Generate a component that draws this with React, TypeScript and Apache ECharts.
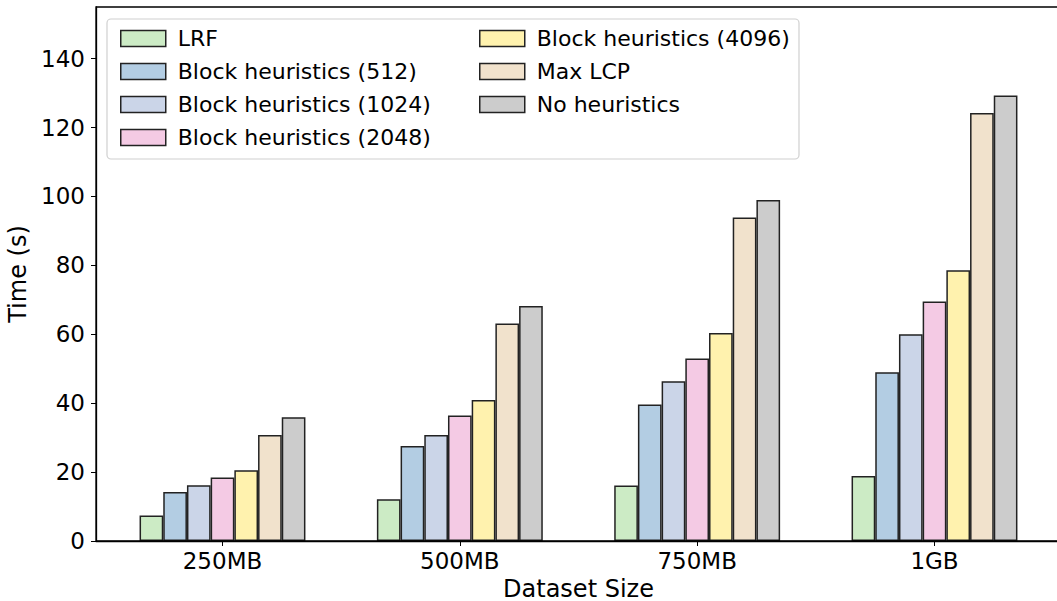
import React, { useEffect, useRef } from "react";
import * as echarts from "echarts";

const categories = ["250MB", "500MB", "750MB", "1GB"];
const seriesNames = [
  "LRF",
  "Block heuristics (512)",
  "Block heuristics (1024)",
  "Block heuristics (2048)",
  "Block heuristics (4096)",
  "Max LCP",
  "No heuristics",
];
const lrf = [7.4, 12.1, 16.1, 18.9];
const block512 = [14.2, 27.6, 39.6, 49.0];
const block1024 = [16.2, 30.8, 46.4, 60.0];
const block2048 = [18.4, 36.4, 53.0, 69.5];
const block4096 = [20.5, 40.9, 60.4, 78.6];
const maxLcp = [30.8, 63.1, 93.9, 124.2];
const noHeur = [35.9, 68.2, 99.0, 129.3];
const yTicks = [0, 20, 40, 60, 80, 100, 120, 140];
const colors = ["#ccebc5", "#b3cde3", "#cbd5e8", "#f4cae4", "#fff2ae", "#f1e2cc", "#cccccc"];

const allValues = [lrf, block512, block1024, block2048, block4096, maxLcp, noHeur];
const FONT = "DejaVu Sans";

export default function App() {
  const ref = useRef<HTMLDivElement>(null);
  useEffect(() => {
    document.body.style.margin = "0";
    const chart = echarts.init(ref.current!, null, { renderer: "svg" });
    const series = allValues.map((vals, si) => ({
      type: "bar",
      name: seriesNames[si],
      data: vals.map((v, i) => [i, v]),
      barWidth: 23.7,
      barGap: "0%",
      itemStyle: { color: colors[si], borderColor: "#222", borderWidth: 1.5 },
    }));
    const legendCommon = {
      orient: "vertical",
      icon: "rect",
      itemWidth: 45,
      itemHeight: 16,
      itemGap: 11,
      textStyle: {
        fontFamily: FONT,
        fontSize: 22,
        color: "#000",
        lineHeight: 22,
        padding: [0, 0, 0, 7],
      },
      itemStyle: { borderColor: "#222", borderWidth: 1.5 },
    };
    chart.setOption({
      animation: false,
      backgroundColor: "#fff",
      color: colors,
      grid: {
        left: 96,
        top: 7,
        width: 965,
        height: 534,
        show: false,
        containLabel: false,
        outerBoundsMode: "none",
      },
      xAxis: {
        type: "value",
        min: -0.533,
        max: 3.533,
        splitLine: { show: false },
        axisLine: { show: true, onZero: false, lineStyle: { color: "#000", width: 1.3 } },
        axisTick: { show: true, length: 5, customValues: [0, 1, 2, 3], lineStyle: { color: "#000" } },
        axisLabel: {
          customValues: [0, 1, 2, 3],
          formatter: (v: number) => categories[Math.round(v)] ?? "",
          fontFamily: FONT,
          fontSize: 23,
          color: "#000",
          margin: 8,
        },
        name: "Dataset Size",
        nameLocation: "middle",
        nameGap: 33,
        nameTextStyle: { fontFamily: FONT, fontSize: 24, color: "#000", lineHeight: 24 },
      },
      yAxis: {
        type: "value",
        min: 0,
        max: 155,
        splitLine: { show: false },
        axisLine: { show: true, onZero: false, lineStyle: { color: "#000", width: 1.3 } },
        axisTick: { show: true, length: 5, customValues: yTicks, lineStyle: { color: "#000" } },
        axisLabel: {
          customValues: yTicks,
          fontFamily: FONT,
          fontSize: 23,
          color: "#000",
          margin: 11,
        },
        name: "Time (s)",
        nameLocation: "middle",
        nameRotate: 90,
        nameGap: 62,
        nameTextStyle: { fontFamily: FONT, fontSize: 24, color: "#000", lineHeight: 24 },
      },
      legend: [
        { ...legendCommon, left: 115, top: 22.5, data: seriesNames.slice(0, 4) },
        { ...legendCommon, left: 474, top: 22.5, data: seriesNames.slice(4) },
      ],
      graphic: [
        {
          type: "rect",
          shape: { x: 96, y: 7, width: 965, height: 534 },
          style: { fill: "none", stroke: "#000", lineWidth: 1.3 },
          silent: true,
          z: 10,
        },
        {
          type: "rect",
          shape: { x: 107, y: 19, width: 692, height: 140, r: 4 },
          style: { fill: "rgba(255,255,255,0.8)", stroke: "#d0d0d0", lineWidth: 1.2 },
          silent: true,
          z: 0,
        },
      ],
      series,
    });
    return () => chart.dispose();
  }, []);
  return (
    <div
      ref={ref}
      style={{ position: "absolute", left: 0, top: 0, width: 1057, height: 601 }}
    />
  );
}
